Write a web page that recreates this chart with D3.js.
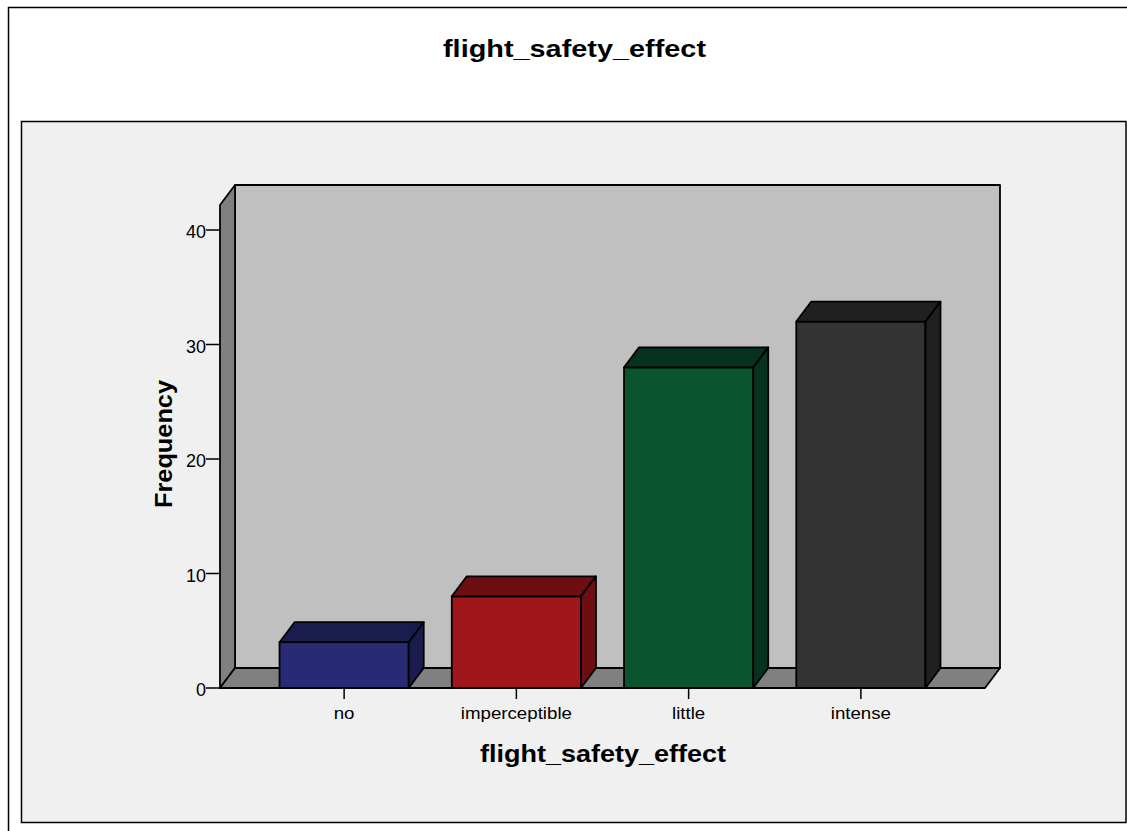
<!DOCTYPE html>
<html>
<head>
<meta charset="utf-8">
<script src="https://cdn.jsdelivr.net/npm/d3@7"></script>
<style>
  html, body { margin: 0; padding: 0; background: #ffffff; }
  svg { display: block; font-family: "Liberation Sans", Arial, sans-serif; }
</style>
</head>
<body>
<svg id="chart" width="1127" height="831"></svg>
<script>
// Frequency of each answer to flight_safety_effect
const categories = ["no", "imperceptible", "little", "intense"];
const frequencies = [4, 8, 28, 32];
const yTicks = [0, 10, 20, 30, 40];
const chartTitle = "flight_safety_effect";
const xTitle = "flight_safety_effect";
const yTitle = "Frequency";

// Face colours per bar: front, top, side
const frontColors = ["#282a73", "#a1161a", "#0a5530", "#333333"];
const topColors = ["#1b1c4e", "#6d0f12", "#063320", "#202020"];
const sideColors = ["#1b1c4e", "#6d0f12", "#063320", "#202020"];

const svg = d3.select("#chart");

// outer frame and inner panel
svg.append("rect").attr("x", 8.5).attr("y", 7.5).attr("width", 1140).attr("height", 830)
  .attr("fill", "#ffffff").attr("stroke", "#000").attr("stroke-width", 1.5);
svg.append("rect").attr("x", 21.5).attr("y", 121.5).attr("width", 1104.5).attr("height", 701)
  .attr("fill", "#f0f0f0").attr("stroke", "#000").attr("stroke-width", 1.5);

svg.append("text").attr("x", 574.5).attr("y", 57).attr("text-anchor", "middle")
  .attr("font-size", 24).attr("font-weight", "bold")
  .attr("textLength", 263).attr("lengthAdjust", "spacingAndGlyphs")
  .text(chartTitle);

// plot area (front plane) and depth offset
const plotLeft = 220, plotRight = 985, plotBottom = 688;
const dx = 15, dy = -20;

const y = d3.scaleLinear().domain([0, 40]).range([plotBottom, 230]);
const yMax = y.invert(205);

const x = d3.scaleBand().domain(categories).range([258, 947]).paddingInner(0.25).paddingOuter(0.125);

function poly(pts, fill) {
  return svg.append("polygon")
    .attr("points", pts.map(d => d.join(",")).join(" "))
    .attr("fill", fill)
    .attr("stroke", "#000")
    .attr("stroke-width", 1.8)
    .attr("stroke-linejoin", "round");
}

const wallTop = y(yMax);
// back wall
poly([[plotLeft + dx, wallTop + dy], [plotRight + dx, wallTop + dy], [plotRight + dx, plotBottom + dy], [plotLeft + dx, plotBottom + dy]], "#c0c0c0");
// left wall
poly([[plotLeft, wallTop], [plotLeft + dx, wallTop + dy], [plotLeft + dx, plotBottom + dy], [plotLeft, plotBottom]], "#808080");
// floor
poly([[plotLeft, plotBottom], [plotLeft + dx, plotBottom + dy], [plotRight + dx, plotBottom + dy], [plotRight, plotBottom]], "#808080");

// y axis ticks and labels
const yAxis = svg.append("g");
yTicks.forEach(t => {
  yAxis.append("line").attr("x1", 206).attr("x2", plotLeft).attr("y1", y(t)).attr("y2", y(t))
    .attr("stroke", "#000").attr("stroke-width", 1.5);
  yAxis.append("text").attr("x", 206).attr("y", y(t) + 8).attr("text-anchor", "end")
    .attr("font-size", 18).text(t);
});

svg.append("text").attr("transform", `translate(172,444) rotate(-90)`)
  .attr("text-anchor", "middle").attr("font-size", 24).attr("font-weight", "bold")
  .attr("textLength", 128).attr("lengthAdjust", "spacingAndGlyphs")
  .text(yTitle);

// bars
categories.forEach((c, i) => {
  const x0 = x(c), x1 = x(c) + x.bandwidth();
  const y0 = y(frequencies[i]), y1 = y(0);
  poly([[x0, y0], [x1, y0], [x1, y1], [x0, y1]], frontColors[i]);
  poly([[x0, y0], [x0 + dx, y0 + dy], [x1 + dx, y0 + dy], [x1, y0]], topColors[i]);
  poly([[x1, y0], [x1 + dx, y0 + dy], [x1 + dx, y1 + dy], [x1, y1]], sideColors[i]);
});

// x axis ticks and labels
categories.forEach(c => {
  const cx = x(c) + x.bandwidth() / 2;
  svg.append("line").attr("x1", cx).attr("x2", cx).attr("y1", plotBottom).attr("y2", plotBottom + 11)
    .attr("stroke", "#000").attr("stroke-width", 1.5);
  svg.append("text").attr("transform", `translate(${cx},719) scale(1.1,1)`)
    .attr("text-anchor", "middle").attr("font-size", 17).text(c);
});

svg.append("text").attr("x", 603).attr("y", 762).attr("text-anchor", "middle")
  .attr("font-size", 24).attr("font-weight", "bold")
  .attr("textLength", 246).attr("lengthAdjust", "spacingAndGlyphs")
  .text(xTitle);
</script>
</body>
</html>
